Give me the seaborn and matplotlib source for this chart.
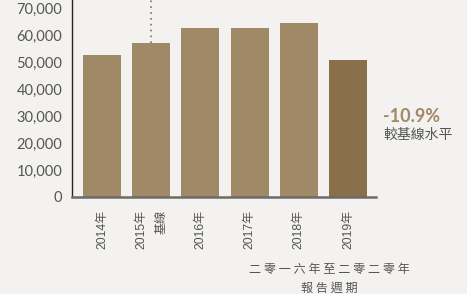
import numpy as np
import pandas as pd
import matplotlib
matplotlib.use("Agg")
import matplotlib.pyplot as plt
import seaborn as sns

# data
years = ["2014年", "2015年\n基線", "2016年", "2017年", "2018年", "2019年"]
values = [52800, 57200, 62800, 62800, 64700, 50900]
bar_colors = ["#A08966", "#A08966", "#A08966", "#A08966", "#A08966", "#89704A"]
y_ticks = [0, 10000, 20000, 30000, 40000, 50000, 60000, 70000]
change_text = "-10.9%"
change_note = "較基線水平"
period_text = "二 零 一 六 年 至 二 零 二 零 年\n報 告 週 期"
baseline_idx = 1

sns.set_theme(style="white")
plt.rcParams["font.family"] = ["Lato", "Noto Sans CJK TC", "DejaVu Sans"]

bg = "#F3F2F0"
fig = plt.figure(figsize=(4.67, 2.94), dpi=100, facecolor=bg)
ax = fig.add_axes([72 / 467, 1 - 197 / 294, (376 - 72) / 467, 197 / 294])
ax.set_facecolor(bg)

df = pd.DataFrame({"year": years, "value": values})
sns.barplot(data=df, x="year", y="value", hue="year", palette=bar_colors,
            legend=False, width=0.77, saturation=1, linewidth=0,
            edgecolor="none", ax=ax)

ax.set_ylim(0, 73200)
ax.set_xlim(-0.61, 5.57)
ax.set_yticks(y_ticks)
ax.set_yticklabels([f"{v:,}" for v in y_ticks], fontsize=10.5, color="#555555",
                   family=["Lato", "DejaVu Sans"])
ax.set_xticks(range(len(years)))
ax.set_xticklabels(years, rotation=90, fontsize=8.7, color="#555555",
                   va="top", ha="center", ma="right",
                   family=["Liberation Sans", "Noto Sans CJK TC"])
for lab in ax.get_xticklabels():
    lab.set_linespacing(1.9)
ax.tick_params(axis="y", length=0, pad=7)
ax.tick_params(axis="x", length=0, pad=9)
ax.set_xlabel("")
ax.set_ylabel("")

for s in ["top", "right"]:
    ax.spines[s].set_visible(False)
ax.spines["left"].set_color("#2B2320")
ax.spines["left"].set_linewidth(1.0)
ax.spines["bottom"].set_color("#6E6A66")
ax.spines["bottom"].set_linewidth(1.8)

# dotted baseline marker above 2015 bar
ax.vlines(baseline_idx, values[baseline_idx], 73200, colors="#8A7048",
          linestyles=(0, (1, 2.5)), linewidth=1.2)

fig.text(383 / 467, 1 - 117 / 294, change_text, fontsize=13, fontweight="bold",
         color="#A08966", va="center", ha="left", family=["Lato", "DejaVu Sans"])
fig.text(383 / 467, 1 - 135 / 294, change_note, fontsize=10, color="#555555",
         va="center", ha="left", family=["Noto Sans CJK TC", "DejaVu Sans"])
fig.text(329 / 467, 1 - 279 / 294, period_text, fontsize=8.7, color="#555555",
         va="center", ha="center", linespacing=1.55,
         family=["Noto Sans CJK TC", "DejaVu Sans"])

fig.savefig("out.png", dpi=100, facecolor=bg)
